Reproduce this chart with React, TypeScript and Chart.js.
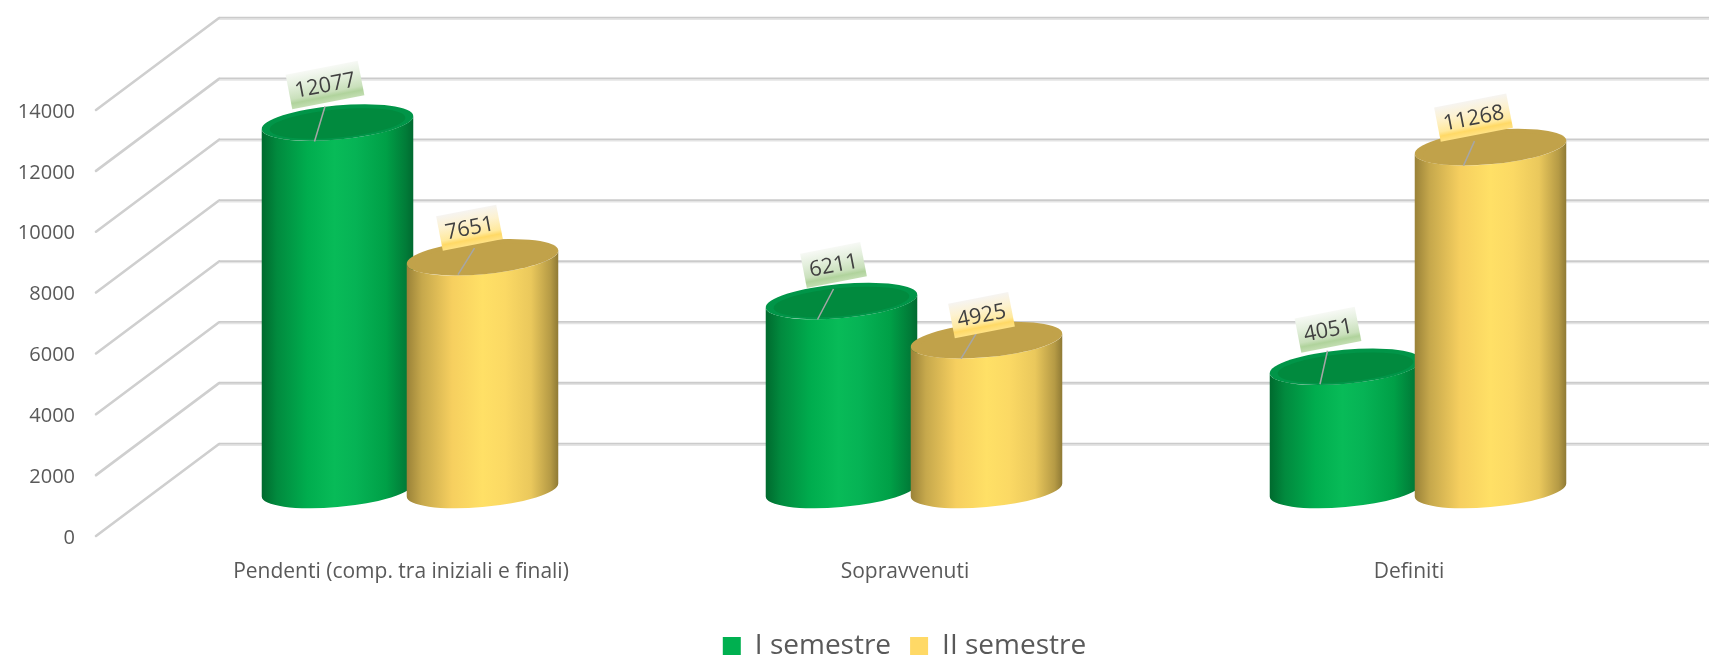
import React, { useEffect, useRef } from "react";
import { Chart, registerables } from "chart.js";

Chart.register(...registerables);

const categories = ["Pendenti (comp. tra iniziali e finali)", "Sopravvenuti", "Definiti"];
const seriesNames = ["I semestre", "II semestre"];
const semestre1 = [12077, 6211, 4051];
const semestre2 = [7651, 4925, 11268];
const yTicks = { min: 0, max: 14000, step: 2000 };

const FONT = "'Open Sans', 'Noto Sans', sans-serif";
const TICK_COLOR = "#595959";

// label tag placement relative to each cylinder's top centre [dx, dy]
const tagOffsets = [
  [[-12.5, -37.5], [-8, -36], [-17.5, -37]],
  [[-13, -29.5], [-5, -25], [-17, -29.5]],
];
const leaderStarts = [
  [[-12.5, -16], [-8, -12], [-18, -16]],
  [[-8, -9], [-10, -7], [-16, -6]],
];
const leaderEnds = [
  [[-23, 19], [-24, 18.5], [-25.5, 17.5]],
  [[-24.5, 17.5], [-25.5, 18.5], [-27, 18.5]],
];

const styles = [
  {
    side: [
      [0, "#006a2e"], [0.1, "#018a3e"], [0.3, "#00ad4e"], [0.48, "#08bb58"],
      [0.62, "#06b355"], [0.82, "#00a047"], [0.95, "#017c38"], [1, "#016a30"],
    ],
    top: "#018a3e",
    rim: "#019548",
    tag: [[0, "#f7f9f5"], [0.35, "#e3efdc"], [0.72, "#c9e0bb"], [0.84, "#b0d39c"], [1, "#c3deb2"]],
    swatch: "#00B050",
  },
  {
    side: [
      [0, "#9a8238"], [0.1, "#c6a84c"], [0.3, "#f6cf5f"], [0.5, "#ffe066"],
      [0.65, "#fbd964"], [0.82, "#eac85c"], [0.95, "#b59a45"], [1, "#8f7a35"],
    ],
    top: "#c1a24a",
    rim: "#c1a24a",
    tag: [[0, "#f6f4f1"], [0.35, "#fdf2d0"], [0.72, "#ffe99c"], [0.84, "#ffd966"], [1, "#ffe285"]],
    swatch: "#FFD966",
  },
];

// Depth of the 3D box (front plane to back wall)
const DEPTH_X = 123;
const DEPTH_Y = -92;
const BOX_LEFT_INSET = 51;
const BAR_SHIFT_X = 11;
const RX_TILT_Y = 6.5;
const HALF_Y = 18.3;

function ellipseParams(hx: number) {
  const diff = hx * hx - HALF_Y * HALF_Y;
  const s2 = 2 * hx * RX_TILT_Y;
  const theta = 0.5 * Math.atan2(s2, diff);
  const amb = Math.hypot(diff, s2);
  const sum = hx * hx + HALF_Y * HALF_Y;
  const a = Math.sqrt((sum + amb) / 2);
  const b = Math.sqrt((sum - amb) / 2);
  const t0 = Math.atan((b / a) * Math.tan(theta));
  return { a, b, rot: -theta, t0 };
}

const cylinderPlugin = {
  id: "cylinders",
  afterLayout(chart: any) {
    // the legend sits close to the lower edge, and is centred right of the page middle
    chart.legend.top += 10;
    chart.legend.bottom += 10;
    chart.legend.left += 75;
    chart.legend.right += 75;
  },
  beforeDatasetsDraw(chart: any) {
    const { ctx, chartArea, scales } = chart;
    const y = scales.y;
    const frontX = chartArea.left - BOX_LEFT_INSET;
    const backX = frontX + DEPTH_X;

    ctx.save();
    y.ticks.forEach((t: any) => {
      const py = y.getPixelForValue(t.value);
      ctx.lineCap = "round";
      ctx.strokeStyle = "#cfcfcf";
      ctx.lineWidth = 2.6;
      ctx.beginPath();
      ctx.moveTo(frontX, py);
      ctx.lineTo(backX, py + DEPTH_Y);
      ctx.stroke();
      ctx.lineCap = "butt";
      ctx.strokeStyle = "#e4e4e4";
      ctx.lineWidth = 1.4;
      ctx.beginPath();
      ctx.moveTo(backX, py + DEPTH_Y + 1.2);
      ctx.lineTo(chart.width, py + DEPTH_Y + 1.2);
      ctx.stroke();
      ctx.strokeStyle = "#cbcbcb";
      ctx.lineWidth = 1.8;
      ctx.beginPath();
      ctx.moveTo(backX, py + DEPTH_Y - 0.4);
      ctx.lineTo(chart.width, py + DEPTH_Y - 0.4);
      ctx.stroke();
    });

    const shiftX = BAR_SHIFT_X;
    const shiftY = DEPTH_Y / 2;
    categories.forEach((_, j) => {
      [0, 1].forEach((s) => {
        const el = chart.getDatasetMeta(s).data[j];
        const st = styles[s];
        const cx = el.x + shiftX;
        const hx = el.width / 2;
        const { a, b, rot, t0 } = ellipseParams(hx);
        const topY = el.y + shiftY;
        const baseY = el.base + shiftY;

        const g = ctx.createLinearGradient(cx - hx, 0, cx + hx, 0);
        st.side.forEach(([p, c]: any) => g.addColorStop(p, c));
        ctx.fillStyle = g;
        ctx.beginPath();
        ctx.ellipse(cx, baseY, a, b, rot, t0, t0 + Math.PI);
        ctx.ellipse(cx, topY, a, b, rot, t0 + Math.PI, t0, true);
        ctx.closePath();
        ctx.fill();

        ctx.fillStyle = st.rim;
        ctx.beginPath();
        ctx.ellipse(cx, topY, a, b, rot, 0, Math.PI * 2);
        ctx.fill();
        ctx.fillStyle = st.top;
        ctx.beginPath();
        ctx.ellipse(cx, topY + 1, a - 8, b - 3, rot, 0, Math.PI * 2);
        ctx.fill();

        const [sx, sy] = leaderStarts[s][j];
        const [ex, ey] = leaderEnds[s][j];
        ctx.strokeStyle = "#a6a6a6";
        ctx.lineWidth = 1.5;
        ctx.beginPath();
        ctx.moveTo(cx + sx, topY + sy);
        ctx.lineTo(cx + ex, topY + ey);
        ctx.stroke();
      });
    });

    // data label tags are on top of every cylinder
    categories.forEach((_, j) => {
      [0, 1].forEach((s) => {
        const el = chart.getDatasetMeta(s).data[j];
        const st = styles[s];
        const cx = el.x + shiftX;
        const topY = el.y + shiftY;
        const [dx, dy] = tagOffsets[s][j];
        const text = String(chart.data.datasets[s].data[j]);
        ctx.save();
        ctx.translate(cx + dx, topY + dy);
        ctx.rotate((-11 * Math.PI) / 180);
        ctx.font = `21.5px ${FONT}`;
        const w = ctx.measureText(text).width + 12;
        const h = 35;
        const lg = ctx.createLinearGradient(0, -h / 2, 0, h / 2);
        st.tag.forEach(([p, c]: any) => lg.addColorStop(p, c));
        ctx.fillStyle = lg;
        ctx.fillRect(-w / 2, -h / 2, w, h);
        ctx.fillStyle = "#404040";
        ctx.textAlign = "center";
        ctx.textBaseline = "middle";
        ctx.fillText(text, 0, 1);
        ctx.restore();
      });
    });
    ctx.restore();
    return false;
  },
};

export default function App() {
  const ref = useRef<HTMLCanvasElement | null>(null);
  useEffect(() => {
    document.body.style.margin = "0";
    const chart = new Chart(ref.current as HTMLCanvasElement, {
      type: "bar",
      data: {
        labels: categories,
        datasets: [
          { label: seriesNames[0], data: semestre1, backgroundColor: styles[0].swatch, borderWidth: 0 },
          { label: seriesNames[1], data: semestre2, backgroundColor: styles[1].swatch, borderWidth: 0 },
        ],
      },
      options: {
        animation: false,
        responsive: false,
        barPercentage: 1.045,
        categoryPercentage: 0.5754,
        layout: { padding: { left: 0, right: 50, top: 110, bottom: 0 } },
        plugins: {
          title: { display: false },
          tooltip: { enabled: false },
          legend: {
            position: "bottom",
            labels: {
              boxWidth: 18,
              boxHeight: 18,
              padding: 19,
              color: TICK_COLOR,
              font: { family: FONT, size: 28 },
            },
          },
        },
        scales: {
          x: {
            grid: { display: false, drawTicks: false },
            border: { display: false },
            afterFit: (s: any) => { s.height = 67; },
            ticks: {
              color: TICK_COLOR,
              padding: 23,
              labelOffset: 2,
              maxRotation: 0,
              autoSkip: false,
              font: { family: FONT, size: 21 },
            },
          },
          y: {
            min: yTicks.min,
            max: yTicks.max,
            grid: { display: false, drawTicks: false },
            border: { display: false },
            afterFit: (s: any) => { s.width = 147; },
            ticks: {
              stepSize: yTicks.step,
              color: TICK_COLOR,
              padding: 72,
              labelOffset: 2,
              callback: (v: any) => String(v),
              font: { family: FONT, size: 20 },
            },
          },
        },
      },
      plugins: [cylinderPlugin],
    } as any);
    return () => chart.destroy();
  }, []);
  return <canvas ref={ref} width={1709} height={660} style={{ display: "block" }} />;
}
